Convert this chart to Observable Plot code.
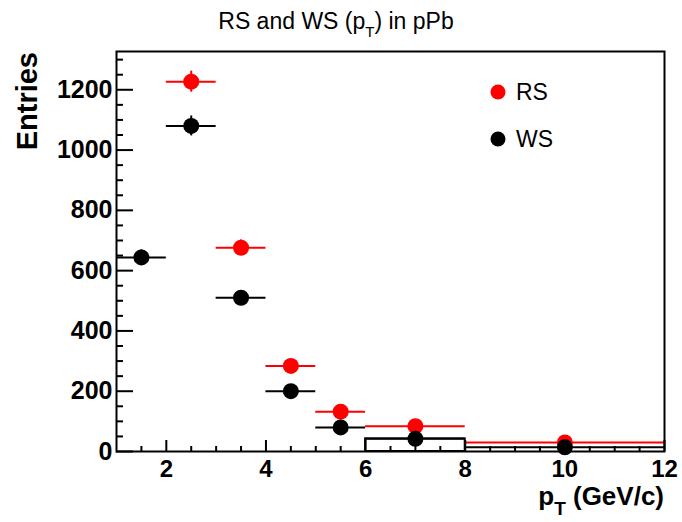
<!DOCTYPE html>
<html><head><meta charset="utf-8">
<script src="https://cdn.jsdelivr.net/npm/d3@7"></script>
<script src="https://cdn.jsdelivr.net/npm/@observablehq/plot@0.6"></script>
<style>
body{margin:0;background:#fff;}
#chart{position:relative;width:682px;height:522px;}
</style>
</head><body><div id="chart"></div>
<script>
// Bins in pT (GeV/c)
const binLo = [1, 2, 3, 4, 5, 6, 8];
const binHi = [2, 3, 4, 5, 6, 8, 12];
// RS (right-sign) entries and errors
const rsValues = [null, 1227, 676, 284, 132, 84, 30];
const rsErrors = [null, 35, 26, 17, 12, 9, 5];
// WS (wrong-sign) entries and errors
const wsValues = [644, 1080, 510, 200, 80, 42, 14];
const wsErrors = [25, 33, 23, 14, 9, 6, 4];
// Axis ticks
const yMajorTicks = [0, 200, 400, 600, 800, 1000, 1200];
const yMinorTicks = d3.range(0, 1326, 50).filter(v => v % 200 !== 0);
const xMajorTicks = [2, 4, 6, 8, 10, 12];
const xMinorTicks = d3.range(1.5, 12, 0.5).filter(v => v % 2 !== 0);

const series = (vals, errs) => binLo.map((lo, i) => ({
  lo, hi: binHi[i], mid: (lo + binHi[i]) / 2, v: vals[i], e: errs[i]
})).filter(d => d.v != null);
const rs = series(rsValues, rsErrors);
const ws = series(wsValues, wsErrors);
const wsBox = ws.filter(d => d.lo === 6);

const font = "'Liberation Sans', Arial, Helvetica, sans-serif";
const RED = "#ff0000", BLACK = "#000000";

const errMarks = (data, color) => [
  Plot.ruleY(data, {x1: "lo", x2: "hi", y: "v", stroke: color, strokeWidth: 2}),
  Plot.ruleX(data, {x: "mid", y1: d => d.v - d.e, y2: d => d.v + d.e, stroke: color, strokeWidth: 2}),
  Plot.dot(data, {x: "mid", y: "v", r: 8, fill: color, stroke: "none"})
];

const plot = Plot.plot({
  width: 682, height: 522,
  marginLeft: 116, marginRight: 18, marginTop: 51, marginBottom: 71,
  style: {fontFamily: font, background: "#fff", overflow: "visible"},
  x: {domain: [1, 12]},
  y: {domain: [0, 1327]},
  marks: [
    Plot.rect(wsBox, {x1: "lo", x2: "hi", y1: 0, y2: "v", fill: "none", stroke: BLACK, strokeWidth: 2}),
    ...errMarks(rs, RED),
    ...errMarks(ws, BLACK),
    Plot.frame({stroke: BLACK, strokeWidth: 2}),
    // inward ticks (ROOT style)
    Plot.axisY({ticks: yMajorTicks, tickSize: 17, dx: 17, fill: "none", label: null, stroke: BLACK, strokeWidth: 2}),
    Plot.axisY({ticks: yMinorTicks, tickSize: 7, dx: 7, fill: "none", label: null, stroke: BLACK, strokeWidth: 2}),
    Plot.axisX({ticks: xMajorTicks, tickSize: 11, dy: -11, fill: "none", label: null, stroke: BLACK, strokeWidth: 2}),
    Plot.axisX({ticks: xMinorTicks, tickSize: 5, dy: -5, fill: "none", label: null, stroke: BLACK, strokeWidth: 2}),
    Plot.axisY({ticks: yMajorTicks, tickSize: 0, tickPadding: 4, tickFormat: d3.format("d"), fontSize: 25, fontWeight: "bold", label: null, fill: BLACK}),
    Plot.axisX({ticks: xMajorTicks, tickSize: 0, tickPadding: 8, tickFormat: d3.format("d"), fontSize: 24, fontWeight: "bold", label: null, fill: BLACK})
  ]
});
plot.querySelectorAll("[aria-label='y-axis tick label'] text, [aria-label='x-axis tick label'] text").forEach(t => t.setAttribute("font-weight", "bold"));
document.getElementById("chart").appendChild(plot);

const svg = d3.select(plot);
// Title
const title = svg.append("text").attr("x", 336).attr("y", 29).attr("text-anchor", "middle")
  .style("font-family", font).style("font-size", "23px").attr("fill", BLACK);
title.append("tspan").text("RS and WS (p");
title.append("tspan").attr("dy", 8).attr("font-size", "15px").text("T");
title.append("tspan").attr("dy", -8).text(") in pPb");

// Y label
svg.append("text").attr("transform", "translate(37,52) rotate(-90)").attr("text-anchor", "end")
  .style("font-family", font).style("font-size", "29px").style("font-weight", "bold").attr("fill", BLACK)
  .text("Entries");

// X label
const xl = svg.append("text").attr("x", 664).attr("y", 505).attr("text-anchor", "end")
  .style("font-family", font).style("font-size", "26px").style("font-weight", "bold").attr("fill", BLACK);
xl.append("tspan").text("p");
xl.append("tspan").attr("dy", 10).attr("font-size", "19px").text("T");
xl.append("tspan").attr("dy", -10).text(" (GeV/c)");

// Legend
const legend = [{name: "RS", color: RED, y: 92}, {name: "WS", color: BLACK, y: 139}];
legend.forEach(l => {
  svg.append("circle").attr("cx", 498).attr("cy", l.y).attr("r", 7.5).attr("fill", l.color);
  svg.append("text").attr("x", 516).attr("y", l.y).attr("dy", "0.35em").attr("text-anchor", "start")
    .style("font-family", font).style("font-size", "23px").attr("fill", BLACK).text(l.name);
});
</script>
</body></html>
